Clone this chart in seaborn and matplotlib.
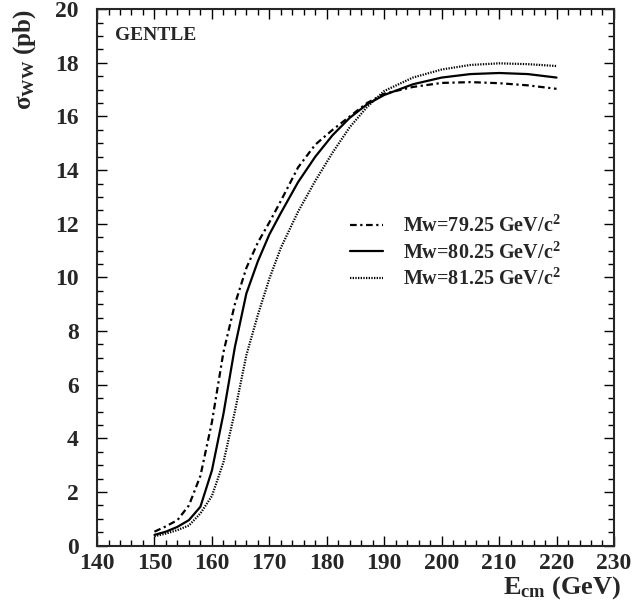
import numpy as np
import pandas as pd
import seaborn as sns
import matplotlib.pyplot as plt
from matplotlib.ticker import MultipleLocator

# cross-section vs. centre-of-mass energy for three W masses
energy = [150, 152, 154, 156, 158, 160, 162, 164, 166, 168, 170, 172,
          175, 178, 181, 184, 187, 190, 195, 200, 205, 210, 215, 220]
sigma_7925 = [0.52, 0.72, 0.95, 1.5, 2.6, 4.6, 7.2, 9.0, 10.35, 11.3, 12.05, 12.85,
              14.1, 14.95, 15.5, 16.0, 16.5, 16.85, 17.1, 17.25, 17.28, 17.24, 17.16, 17.03]
sigma_8025 = [0.40, 0.52, 0.70, 0.95, 1.45, 2.8, 4.9, 7.4, 9.4, 10.6, 11.6, 12.4,
              13.55, 14.5, 15.3, 15.95, 16.45, 16.8, 17.2, 17.45, 17.58, 17.62, 17.58, 17.45]
sigma_8125 = [0.35, 0.45, 0.58, 0.75, 1.2, 1.85, 3.1, 5.0, 7.1, 8.6, 9.95, 11.1,
              12.45, 13.6, 14.65, 15.6, 16.35, 16.95, 17.45, 17.75, 17.92, 17.98, 17.95, 17.88]
masses = ["79.25", "80.25", "81.25"]

df = pd.DataFrame({
    "E": energy * 3,
    "sigma": sigma_7925 + sigma_8025 + sigma_8125,
    "mass": [m for m in masses for _ in energy],
})

sns.set_style("ticks")
plt.rcParams["font.family"] = ["Liberation Serif", "DejaVu Serif"]
plt.rcParams["font.weight"] = "bold"
plt.rcParams["mathtext.fontset"] = "custom"
plt.rcParams["mathtext.rm"] = "Liberation Serif:bold"
plt.rcParams["mathtext.it"] = "Liberation Serif"
plt.rcParams["mathtext.bf"] = "Liberation Serif:bold"

fig = plt.figure(figsize=(6.32, 6.11), dpi=100)
ax = fig.add_axes([0.1535, 0.107, 0.818, 0.878])

styles = {"79.25": (3, 1.6, 1, 1.6), "80.25": "", "81.25": (0.6, 0.6)}
sns.lineplot(data=df, x="E", y="sigma", style="mass", style_order=masses,
             dashes=styles, color="black", linewidth=1.6, ax=ax, legend=False)

ax.set_xlim(140, 230)
ax.set_ylim(0, 20)
ax.xaxis.set_major_locator(MultipleLocator(10))
ax.xaxis.set_minor_locator(MultipleLocator(2))
ax.yaxis.set_major_locator(MultipleLocator(2))
ax.yaxis.set_minor_locator(MultipleLocator(0.5))
ax.tick_params(which="both", direction="in", top=True, right=True,
               labelsize=17, width=1.0, color="black")
ax.tick_params(which="major", length=7.5)
ax.tick_params(which="minor", length=4)
ax.tick_params(axis="y", which="major", pad=13)
ax.tick_params(axis="x", which="major", pad=5)
for lab in ax.get_xticklabels() + ax.get_yticklabels():
    lab.set_fontweight("bold")
for s in ax.spines.values():
    s.set_linewidth(1.5)

ax.set_xlabel(r"E$_{\mathbf{cm}}$ (GeV)", fontsize=19, fontweight="bold",
              ha="right", va="top")
ax.xaxis.set_label_coords(1.015, -0.054)
ax.set_ylabel(r"$\sigma_{\mathbf{WW}}$ (pb)", fontsize=18, fontweight="bold",
              loc="top")
ax.yaxis.set_label_coords(-0.114, 1.0)

ax.text(0.035, 0.967, "GENTLE", transform=ax.transAxes, fontsize=14,
        fontweight="bold", va="top", ha="left")

labels = [r"Mw=%s GeV/c$^{\mathbf{2}}$" % m for m in masses]
leg = ax.legend(ax.get_lines()[:3], labels, loc="center left",
                bbox_to_anchor=(0.49, 0.546), frameon=False, fontsize=14.5,
                handlelength=1.6, handletextpad=1.0, labelspacing=0.25,
                borderaxespad=0, borderpad=0)
for t in leg.get_texts():
    t.set_fontweight("bold")

fig.savefig("out.png", dpi=100)
